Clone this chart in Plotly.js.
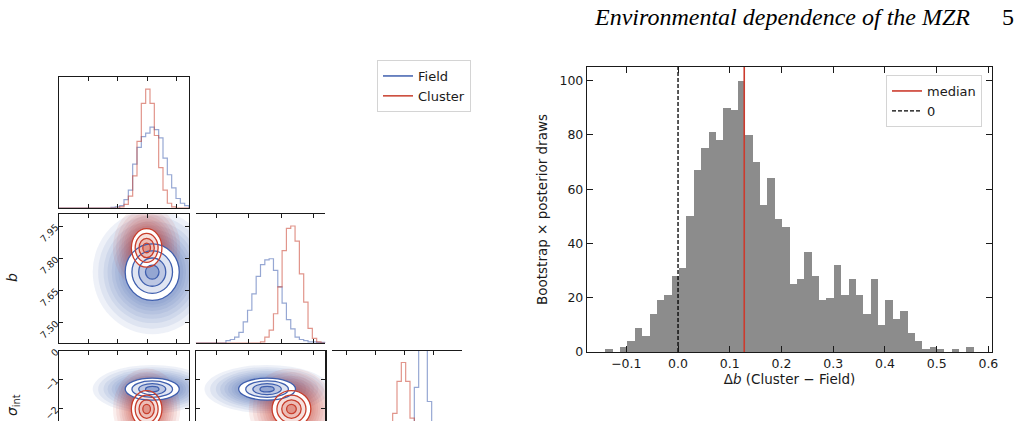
<!DOCTYPE html>
<html>
<head>
<meta charset="utf-8">
<script src="https://cdn.plot.ly/plotly-3.0.1.min.js"></script>
<style>
  html, body { margin: 0; padding: 0; background: #ffffff; }
  #chart { width: 1018px; height: 421px; }
</style>
</head>
<body>
<div id="chart"></div>
<script>
// ---------------- Δb bootstrap histogram ----------------
const deltaBinStart = -0.1406;
const deltaBinWidth = 0.01425;
const deltaCounts = [1, 0, 2, 4, 9, 6, 14, 19, 21, 28,
                     31, 50, 67, 75, 81, 78, 90, 89, 100, 80,
                     70, 54, 64, 49, 46, 25, 27, 37, 28, 19,
                     20, 32, 21, 27, 21, 14, 27, 10, 19, 12,
                     15, 7, 4, 1, 2, 1, 0, 1, 0, 2];
const deltaMedian = 0.128;
const deltaZero = 0.0;
const deltaTicks = [-0.1, 0.0, 0.1, 0.2, 0.3, 0.4, 0.5, 0.6];
const deltaTickLabels = ['\u22120.1', '0.0', '0.1', '0.2', '0.3', '0.4', '0.5', '0.6'];
const countTicks = [0, 20, 40, 60, 80, 100];
const deltaRange = [-0.176, 0.607];
const countRange = [0, 105];

// ---------------- corner plot: parameter axes ----------------
const aRange = [0, 4.42];
const aTicks = [1, 2, 3, 4];
const bRange = [7.404, 8.005];
const bTicks = [7.50, 7.65, 7.80, 7.95];
const bTickLabels = ['7.50', '7.65', '7.80', '7.95'];
const sRange = [-4.5, 0.0];
const sTicks = [-4, -3, -2, -1, 0];
const sTickLabels = ['\u22124', '\u22123', '\u22122', '\u22121', '0'];
const nBins = 30;

// marginal histograms, normalised to the Cluster peak
const fieldHistA   = [0, 0, 0, 0, 0, 0, 0, 0, 0, 0, 0, 0, 0.005, 0.01, 0.02,
                      0.07, 0.15, 0.37, 0.51, 0.60, 0.63, 0.68, 0.66, 0.59, 0.42,
                      0.28, 0.17, 0.08, 0.04, 0.02];
const clusterHistA = [0, 0, 0, 0, 0, 0, 0, 0, 0, 0, 0, 0, 0, 0, 0.01,
                      0.03, 0.10, 0.27, 0.56, 0.88, 1.00, 0.88, 0.61, 0.34, 0.15,
                      0.04, 0.01, 0, 0, 0];
const fieldHistB   = [0, 0, 0, 0, 0, 0, 0, 0.02, 0.03, 0.05, 0.09, 0.18, 0.28, 0.42, 0.57,
                      0.67, 0.71, 0.72, 0.62, 0.48, 0.34, 0.20, 0.12, 0.05, 0.03,
                      0.02, 0.01, 0.01, 0.005, 0.005];
const clusterHistB = [0, 0, 0, 0, 0, 0, 0, 0, 0, 0, 0, 0, 0, 0, 0,
                      0.01, 0.05, 0.11, 0.25, 0.48, 0.79, 0.98, 1.00, 0.87, 0.59,
                      0.35, 0.125, 0.04, 0.01, 0];
const fieldHistS   = [0, 0, 0, 0, 0, 0, 0, 0, 0, 0, 0, 0, 0, 0, 0,
                      0, 0.02, 0.08, 0.35, 0.79, 1.35, 1.45, 0.67, 0.20, 0.05,
                      0.01, 0, 0, 0, 0];
const clusterHistS = [0, 0, 0, 0, 0, 0, 0, 0, 0, 0, 0, 0, 0.12, 0.30, 0.57,
                      0.84, 1.00, 0.84, 0.53, 0.25, 0.10, 0.03, 0.01, 0, 0,
                      0, 0, 0, 0, 0];
const diagTop = 1.1;

// posterior summaries (a, b, sigma_int): means and standard deviations
const fieldMean   = [3.17, 7.735, -1.33];
const fieldSd     = [0.46, 0.066, 0.19];
const clusterMean = [2.98, 7.848, -2.02];
const clusterSd   = [0.26, 0.045, 0.32];

// contour radii (in sd) and the scatter halo around them
const contourLevels = [2.0, 1.5, 1.0, 0.5];
const contourFillAlpha = [0, 0.16, 0.22, 0.32];
const haloLevels = [4.4, 4.0, 3.6, 3.3, 3.0, 2.75, 2.5, 2.3];
const haloAlpha = 0.085;

const fieldRGB = [63, 95, 174];
const clusterRGB = [200, 62, 44];
const rgba = (c, a) => `rgba(${c[0]},${c[1]},${c[2]},${a})`;

// ---------------- page geometry (pixels) ----------------
const W = 1018, H = 421;
const colX = [[59, 189], [195.7, 325.3], [332, 462]];
const rowY = [[77.3, 208], [214.3, 343], [350.7, 480.7]];
const dx = p => [p[0] / W, p[1] / W];
const dy = p => [1 - Math.min(p[1], H) / H, 1 - p[0] / H];
// share of the third row that lies on the page
const row3Shown = (H - rowY[2][0]) / (rowY[2][1] - rowY[2][0]);
const sRangeShown = [sRange[1] - (sRange[1] - sRange[0]) * row3Shown, sRange[1]];
const diagRangeShown = [diagTop * (1 - row3Shown), diagTop];

const ink = '#1a1a1a';
const tickFont = { family: 'DejaVu Sans', size: 9.5, color: ink };

function axis(domain, range, extra) {
  return Object.assign({
    domain: domain, range: range, showgrid: false, zeroline: false,
    showline: true, linecolor: ink, linewidth: 1.2, mirror: 'ticks',
    ticks: 'inside', ticklen: 4, tickwidth: 1, tickcolor: ink,
    tickfont: tickFont, fixedrange: true, ticklabeloverflow: 'allow'
  }, extra);
}

function stepTrace(start, width, counts, xa, ya, color) {
  const xs = [start], ys = [0];
  counts.forEach((c, i) => { xs.push(start + i * width); ys.push(c); });
  xs.push(start + counts.length * width); ys.push(0);
  return {
    type: 'scatter', mode: 'lines', x: xs, y: ys, xaxis: xa, yaxis: ya,
    line: { shape: 'hv', color: color, width: 1.2 },
    hoverinfo: 'skip', showlegend: false
  };
}

function ellipse(xa, ya, cx, cy, sx, sy, k, fill, lineColor, lineWidth) {
  return {
    type: 'circle', xref: xa, yref: ya, layer: 'below',
    x0: cx - k * sx, x1: cx + k * sx, y0: cy - k * sy, y1: cy + k * sy,
    fillcolor: fill, line: { color: lineColor, width: lineWidth }
  };
}

// one 2-D panel: halo, density bands and contour lines for both samples
function panelShapes(xa, ya, ix, iy) {
  const sets = [[fieldMean, fieldSd, fieldRGB], [clusterMean, clusterSd, clusterRGB]];
  const halo = [], fills = [], lines = [];
  sets.forEach(([m, s, c]) => {
    haloLevels.forEach(k => halo.push(ellipse(xa, ya, m[ix], m[iy], s[ix], s[iy], k,
      rgba(c, haloAlpha), 'rgba(0,0,0,0)', 0)));
  });
  sets.forEach(([m, s, c]) => {
    contourLevels.forEach((k, i) => fills.push(ellipse(xa, ya, m[ix], m[iy], s[ix], s[iy], k,
      i === 0 ? 'rgba(255,255,255,1)' : rgba(c, contourFillAlpha[i]), 'rgba(0,0,0,0)', 0)));
  });
  sets.forEach(([m, s, c]) => {
    contourLevels.forEach(k => lines.push(ellipse(xa, ya, m[ix], m[iy], s[ix], s[iy], k,
      'rgba(0,0,0,0)', rgba(c, 1), 1.3)));
  });
  return halo.concat(fills, lines);
}

const aW = (aRange[1] - aRange[0]) / nBins;
const bW = (bRange[1] - bRange[0]) / nBins;
const sW = (sRange[1] - sRange[0]) / nBins;
const fieldLine = rgba(fieldRGB, 0.55);
const clusterLine = rgba(clusterRGB, 0.55);

const empty = (xa, ya) => ({ type: 'scatter', mode: 'markers', x: [null], y: [null],
  xaxis: xa, yaxis: ya, showlegend: false, hoverinfo: 'skip' });

const binCenters = deltaCounts.map((_, i) => deltaBinStart + (i + 0.5) * deltaBinWidth);

const traces = [
  // diagonal histograms
  stepTrace(aRange[0], aW, fieldHistA, 'x', 'y', fieldLine),
  stepTrace(aRange[0], aW, clusterHistA, 'x', 'y', clusterLine),
  stepTrace(bRange[0], bW, fieldHistB, 'x3', 'y3', fieldLine),
  stepTrace(bRange[0], bW, clusterHistB, 'x3', 'y3', clusterLine),
  stepTrace(sRange[0], sW, fieldHistS, 'x6', 'y6', fieldLine),
  stepTrace(sRange[0], sW, clusterHistS, 'x6', 'y6', clusterLine),
  empty('x2', 'y2'), empty('x4', 'y4'), empty('x5', 'y5'),
  // corner legend entries
  { type: 'scatter', mode: 'lines', x: [null], y: [null], xaxis: 'x', yaxis: 'y',
    name: 'Field', legend: 'legend2', line: { color: rgba(fieldRGB, 1), width: 1.5 } },
  { type: 'scatter', mode: 'lines', x: [null], y: [null], xaxis: 'x', yaxis: 'y',
    name: 'Cluster', legend: 'legend2', line: { color: rgba(clusterRGB, 1), width: 1.5 } },
  // Δb histogram
  { type: 'bar', x: binCenters, y: deltaCounts, width: deltaBinWidth, xaxis: 'x7', yaxis: 'y7',
    marker: { color: '#8c8c8c', line: { width: 0 } }, showlegend: false, hoverinfo: 'skip' },
  { type: 'scatter', mode: 'lines', x: [deltaMedian, deltaMedian], y: countRange,
    xaxis: 'x7', yaxis: 'y7', name: 'median', legend: 'legend',
    line: { color: '#cc3b2e', width: 1.6 } },
  { type: 'scatter', mode: 'lines', x: [deltaZero, deltaZero], y: countRange,
    xaxis: 'x7', yaxis: 'y7', name: '0', legend: 'legend',
    line: { color: '#000000', width: 1.3, dash: '4px,2px' } }
];

const noLabels = { showticklabels: false };
const diagY = (dom, rng) => axis(dom, rng, { showticklabels: false, ticks: '', mirror: true });

const layout = {
  width: W, height: H, margin: { l: 0, r: 0, t: 0, b: 0 },
  paper_bgcolor: '#ffffff', plot_bgcolor: '#ffffff',
  bargap: 0, showlegend: true,
  font: { family: 'DejaVu Sans', color: ink },
  // row 1
  xaxis:  axis(dx(colX[0]), aRange, Object.assign({ anchor: 'y', tickvals: aTicks }, noLabels)),
  yaxis:  diagY(dy(rowY[0]), [0, diagTop]),
  // row 2
  xaxis2: axis(dx(colX[0]), aRange, Object.assign({ anchor: 'y2', tickvals: aTicks }, noLabels)),
  yaxis2: axis(dy(rowY[1]), bRange, { anchor: 'x2', tickvals: bTicks, ticktext: bTickLabels, tickangle: -45 }),
  xaxis3: axis(dx(colX[1]), bRange, Object.assign({ anchor: 'y3', tickvals: bTicks }, noLabels)),
  yaxis3: diagY(dy(rowY[1]), [0, diagTop]),
  // row 3 (runs past the bottom edge of the page)
  xaxis4: axis(dx(colX[0]), aRange, Object.assign({ anchor: 'y4', tickvals: aTicks, side: 'top', mirror: false }, noLabels)),
  yaxis4: axis(dy(rowY[2]), sRangeShown, { anchor: 'x4', tickvals: sTicks, ticktext: sTickLabels, tickangle: -45 }),
  xaxis5: axis(dx(colX[1]), bRange, Object.assign({ anchor: 'y5', tickvals: bTicks, side: 'top', mirror: false }, noLabels)),
  yaxis5: axis(dy(rowY[2]), sRangeShown, Object.assign({ anchor: 'x5', tickvals: sTicks }, noLabels)),
  xaxis6: axis(dx(colX[2]), sRange, Object.assign({ anchor: 'y6', tickvals: sTicks, side: 'top', mirror: false }, noLabels)),
  yaxis6: diagY(dy(rowY[2]), diagRangeShown),
  // Δb panel
  xaxis7: axis(dx([587, 992]), deltaRange, {
    anchor: 'y7', tickvals: deltaTicks, ticktext: deltaTickLabels, ticklen: 6,
    tickfont: { family: 'DejaVu Sans', size: 12.5, color: ink },
    title: { text: '\u0394<i>b</i> (Cluster \u2212 Field)', font: { family: 'DejaVu Sans', size: 13.5, color: ink }, standoff: 4 }
  }),
  yaxis7: axis(dy([67, 352]), countRange, {
    anchor: 'x7', tickvals: countTicks, ticklen: 6,
    tickfont: { family: 'DejaVu Sans', size: 12.5, color: ink },
    title: { text: 'Bootstrap \u00d7 posterior draws', font: { family: 'DejaVu Sans', size: 13.5, color: ink }, standoff: 8 }
  }),
  legend: {
    x: 886 / W, y: 1 - 75 / H, xanchor: 'left', yanchor: 'top',
    bgcolor: 'rgba(255,255,255,0.9)', bordercolor: '#d4d4d4', borderwidth: 1,
    font: { family: 'DejaVu Sans', size: 13, color: ink }, itemwidth: 30, tracegroupgap: 0
  },
  legend2: {
    x: 377 / W, y: 1 - 60 / H, xanchor: 'left', yanchor: 'top',
    bgcolor: 'rgba(255,255,255,0.9)', bordercolor: '#d4d4d4', borderwidth: 1,
    font: { family: 'DejaVu Sans', size: 13, color: ink }, itemwidth: 30, tracegroupgap: 0
  },
  shapes: [].concat(
    panelShapes('x2', 'y2', 0, 1),
    panelShapes('x4', 'y4', 0, 2),
    panelShapes('x5', 'y5', 1, 2)
  ),
  annotations: [
    { text: '<i>Environmental dependence of the MZR</i>', xref: 'paper', yref: 'paper',
      x: 592 / W, y: 1 - 17 / H, xanchor: 'left', yanchor: 'middle', showarrow: false,
      font: { family: 'Liberation Serif', size: 24, color: '#000' } },
    { text: '5', xref: 'paper', yref: 'paper', x: 1008 / W, y: 1 - 17 / H,
      xanchor: 'center', yanchor: 'middle', showarrow: false,
      font: { family: 'Liberation Serif', size: 24, color: '#000' } },
    { text: '<i>b</i>', xref: 'paper', yref: 'paper', x: 12 / W, y: 1 - 278 / H,
      xanchor: 'center', yanchor: 'middle', textangle: -90, showarrow: false,
      font: { family: 'DejaVu Sans', size: 14, color: ink } },
    { text: '<i>\u03c3</i><sub>int</sub>', xref: 'paper', yref: 'paper', x: 13 / W, y: 1 - 405 / H,
      xanchor: 'center', yanchor: 'middle', textangle: -90, showarrow: false,
      font: { family: 'DejaVu Sans', size: 14, color: ink } }
  ]
};

Plotly.newPlot('chart', traces, layout, { staticPlot: true, displayModeBar: false });
</script>
</body>
</html>
